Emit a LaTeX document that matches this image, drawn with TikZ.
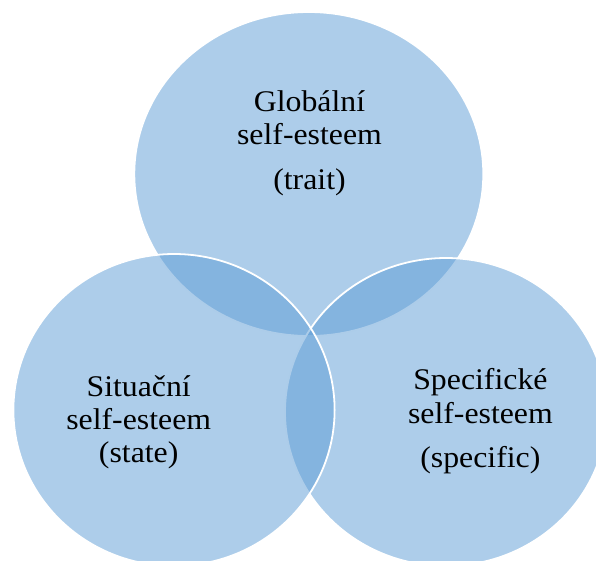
\documentclass[tikz,border=0pt]{standalone}
\usepackage{fontspec}
\setmainfont{Liberation Serif}
\usepackage{graphicx}
\definecolor{accblue}{HTML}{5B9BD5}
\tikzset{
  venn/.style={fill=accblue, fill opacity=0.5, draw=white, line width=1.8pt},
  lbl/.style={anchor=base, inner sep=0pt, outer sep=0pt, font=\fontsize{30}{33}\selectfont, text=black}
}
\newcommand{\stretchtxt}[1]{\scalebox{1.06}[1]{#1}}
\begin{document}
\begin{tikzpicture}[x=1pt,y=-1pt]
\useasboundingbox (0,0) rectangle (596,560);
\clip (0,0) rectangle (596,560);
% circles (drawn in the original stacking order)
\draw[venn] (308.8,174) ellipse [x radius=174.5pt, y radius=162pt];
\draw[venn] (446,412) ellipse [x radius=161pt, y radius=154pt];
\draw[venn] (174,410) ellipse [x radius=160.6pt, y radius=156pt];
% labels
\node[lbl] (g1) at (309.5,111.5) {\stretchtxt{Globální}};
\node[lbl] (g2) at (309.5,144.5) {\stretchtxt{self-esteem}};
\node[lbl] (g3) at (309.5,189.5) {\stretchtxt{(trait)}};
\node[lbl] (s1) at (138.7,396.5) {\stretchtxt{Situační}};
\node[lbl] (s2) at (138.7,429.5) {\stretchtxt{self-esteem}};
\node[lbl] (s3) at (138.7,462.5) {\stretchtxt{(state)}};
\node[lbl] (p1) at (480.4,389.5) {\stretchtxt{Specifické}};
\node[lbl] (p2) at (480.4,423) {\stretchtxt{self-esteem}};
\node[lbl] (p3) at (480.4,467) {\stretchtxt{(specific)}};
\end{tikzpicture}
\end{document}
